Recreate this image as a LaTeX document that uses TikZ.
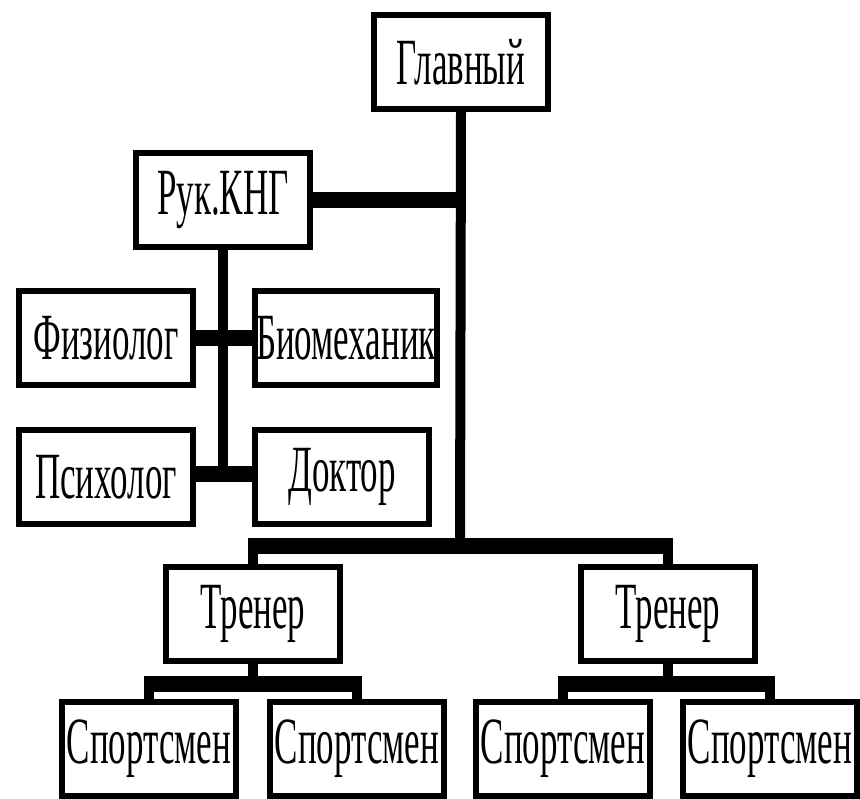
\documentclass[tikz,border=0pt]{standalone}
\usepackage{graphicx}
\usepackage{fontspec}
\setmainfont{Liberation Serif}
\def\narrow#1{\scalebox{0.53}[1]{#1}}
\tikzset{
  post/.style={draw, line width=6pt, fill=white, inner sep=0pt,
    minimum width=174pt, minimum height=94pt,
    font=\fontsize{66}{66}\selectfont},
  hbar/.style={line width=16pt},
  vbar/.style={line width=10pt}
}

\begin{document}
\begin{tikzpicture}[x=1pt,y=-1pt]
  \useasboundingbox (0,0) rectangle (860,799);
  \coordinate (hub) at (460,546);
  \coordinate (kng) at (223,474);
  \coordinate (j1) at (253,684);
  \coordinate (j2) at (668,684);
  \node[post] (glav) at (461,62) {\narrow{Главный}};
  \node[post] (ruk) at (223,200) {\narrow{Рук.КНГ}};
  \node[post] (fiz) at (106,338) {\narrow{Физиолог}};
  \node[post, minimum width=182pt] (bio) at (346,338) {\narrow{Биомеханик}};
  \node[post] (psy) at (106,477) {\narrow{Психолог}};
  \node[post] (dok) at (342,477) {\narrow{Доктор}};
  \node[post] (tr1) at (253,614) {\narrow{Тренер}};
  \node[post] (tr2) at (668,614) {\narrow{Тренер}};
  \foreach \n/\x in {1/149,2/357,3/563,4/770}
    \node[post] (sp\n) at (\x,749) {\narrow{Спортсмен}};
  \draw[vbar] (glav.south) -- (hub);
  \draw[hbar] (ruk.east) -- (ruk.east -| hub);
  \draw[vbar] (ruk.south) -- (kng);
  \draw[hbar] (fiz) -- (bio);
  \draw[hbar] (psy.east |- kng) -- (dok.west |- kng);
  \foreach \t in {tr1,tr2} \draw[vbar] (\t.north) -- (\t.north |- hub);
  \draw[hbar] ([xshift=-5pt]tr1.north |- hub) -- ([xshift=5pt]tr2.north |- hub);
  \foreach \t/\j in {tr1/j1,tr2/j2} \draw[vbar] (\t.south) -- (\j);
  \foreach \s/\j in {sp1/j1,sp2/j1,sp3/j2,sp4/j2} \draw[vbar] (\s.north) -- (\s.north |- \j);
  \draw[hbar] ([xshift=-5pt]sp1.north |- j1) -- ([xshift=5pt]sp2.north |- j1);
  \draw[hbar] ([xshift=-5pt]sp3.north |- j2) -- ([xshift=5pt]sp4.north |- j2);
\end{tikzpicture}
\end{document}
